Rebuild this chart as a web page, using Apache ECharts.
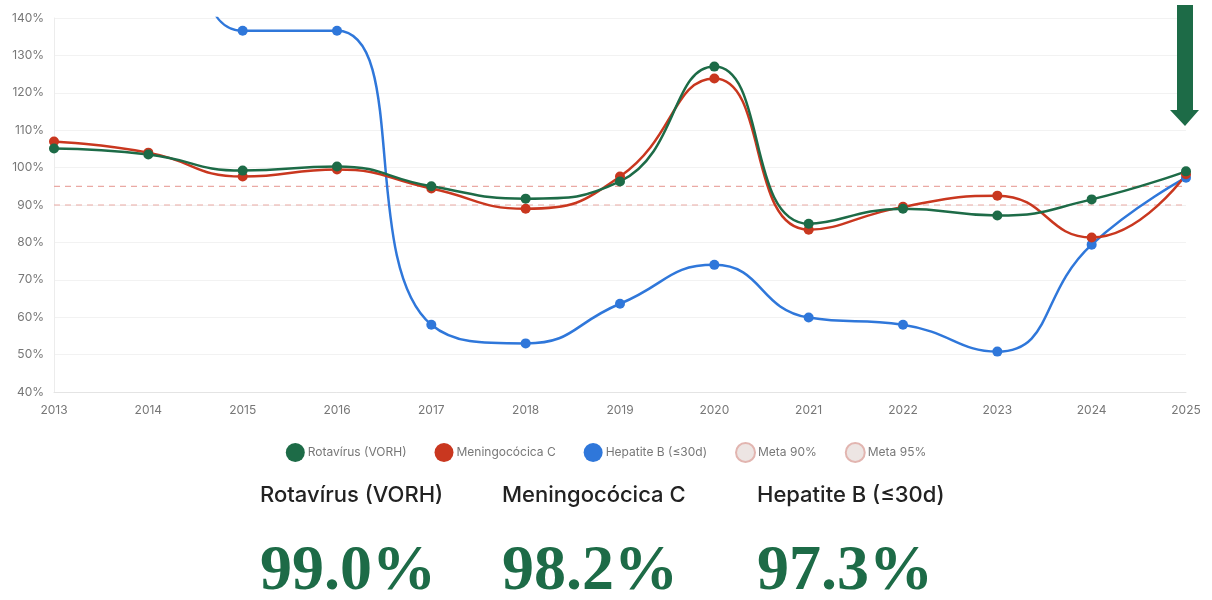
<!DOCTYPE html>
<html>
<head>
<meta charset="utf-8">
<script src="https://cdn.jsdelivr.net/npm/echarts@6/dist/echarts.min.js"></script>
<style>
  html, body { margin: 0; padding: 0; background: #fff; }
  #chart { width: 1212px; height: 600px; }
</style>
</head>
<body>
<div id="chart"></div>
<script>
// dados
var anos = ["2013", "2014", "2015", "2016", "2017", "2018", "2019", "2020", "2021", "2022", "2023", "2024", "2025"];
var rotavirus = [105.1, 103.5, 99.2, 100.3, 95.0, 91.7, 96.3, 127.0, 85.0, 89.0, 87.2, 91.5, 99.0];
var meningo = [107.0, 104.0, 97.6, 99.5, 94.4, 89.0, 97.6, 123.8, 83.4, 89.5, 92.5, 81.3, 98.2];
var hepatiteB = [240.0, 230.0, 136.6, 136.6, 58.0, 53.0, 63.6, 74.0, 59.9, 58.0, 50.8, 79.4, 97.3];
var meta90 = [90, 90, 90, 90, 90, 90, 90, 90, 90, 90, 90, 90, 90];
var meta95 = [95, 95, 95, 95, 95, 95, 95, 95, 95, 95, 95, 95, 95];
var nomes = ["Rotavírus (VORH)", "Meningocócica C", "Hepatite B (≤30d)"];

var verde = "#1d6b47";
var vermelho = "#c9371f";
var azul = "#2f77da";

var chart = echarts.init(document.getElementById("chart"));

function linha(nome, dados, cor) {
  return {
    name: nome,
    type: "line",
    smooth: true,
    data: dados,
    symbol: "circle",
    symbolSize: 10,
    lineStyle: { color: cor, width: 2.5 },
    itemStyle: { color: cor }
  };
}

function meta(nome, dados) {
  return {
    name: nome,
    type: "line",
    data: dados,
    symbol: "none",
    lineStyle: { color: "#eaa9a4", width: 1.2, type: [6, 5] },
    itemStyle: { color: "#ede5e3", borderColor: "#e2b5b0", borderWidth: 1 }
  };
}

// textos de resumo abaixo do gráfico
var ultimos = [rotavirus[12], meningo[12], hepatiteB[12]];
var posX = [260, 502, 757];
var resumo = [];
for (var i = 0; i < 3; i++) {
  resumo.push({
    type: "text",
    left: posX[i],
    top: 484,
    style: { text: nomes[i], fill: "#222", font: "500 22px Inter, 'Noto Sans', sans-serif" }
  });
  resumo.push({
    type: "text",
    left: posX[i],
    top: 540,
    style: { text: ultimos[i].toFixed(1) + "%", fill: verde, font: "bold 64px 'Liberation Serif', serif" }
  });
}
// seta
resumo.push({
  type: "polygon",
  z: 100,
  shape: { points: [[1177, 5], [1193, 5], [1193, 110], [1199, 110], [1185, 126], [1170, 110], [1177, 110]] },
  style: { fill: verde }
});

chart.setOption({
  animation: false,
  grid: { left: 54, right: 26, top: 18, bottom: 208 },
  legend: {
    top: 437,
    left: "center",
    icon: "circle",
    itemWidth: 19,
    itemHeight: 19,
    itemGap: 28,
    textStyle: { color: "#777", fontSize: 12, fontFamily: "Inter, sans-serif", padding: [0, 0, 0, -2] },
    data: ["Rotavírus (VORH)", "Meningocócica C", "Hepatite B (≤30d)", "Meta 90%", "Meta 95%"]
  },
  xAxis: {
    type: "category",
    boundaryGap: false,
    data: anos,
    axisLine: { lineStyle: { color: "#e4e4e4" } },
    axisTick: { show: false },
    axisLabel: { color: "#777", fontSize: 12, margin: 12, fontFamily: "Inter, sans-serif" }
  },
  yAxis: {
    type: "value",
    min: 40,
    max: 140,
    interval: 10,
    axisLine: { show: true, lineStyle: { color: "#ececec" } },
    axisLabel: { color: "#777", fontSize: 12, margin: 10, formatter: "{value}%", fontFamily: "Inter, sans-serif" },
    splitLine: { lineStyle: { color: "#f2f2f2" } }
  },
  series: [
    meta("Meta 90%", meta90),
    meta("Meta 95%", meta95),
    linha("Hepatite B (≤30d)", hepatiteB, azul),
    linha("Meningocócica C", meningo, vermelho),
    linha("Rotavírus (VORH)", rotavirus, verde)
  ],
  graphic: resumo
});
</script>
</body>
</html>
